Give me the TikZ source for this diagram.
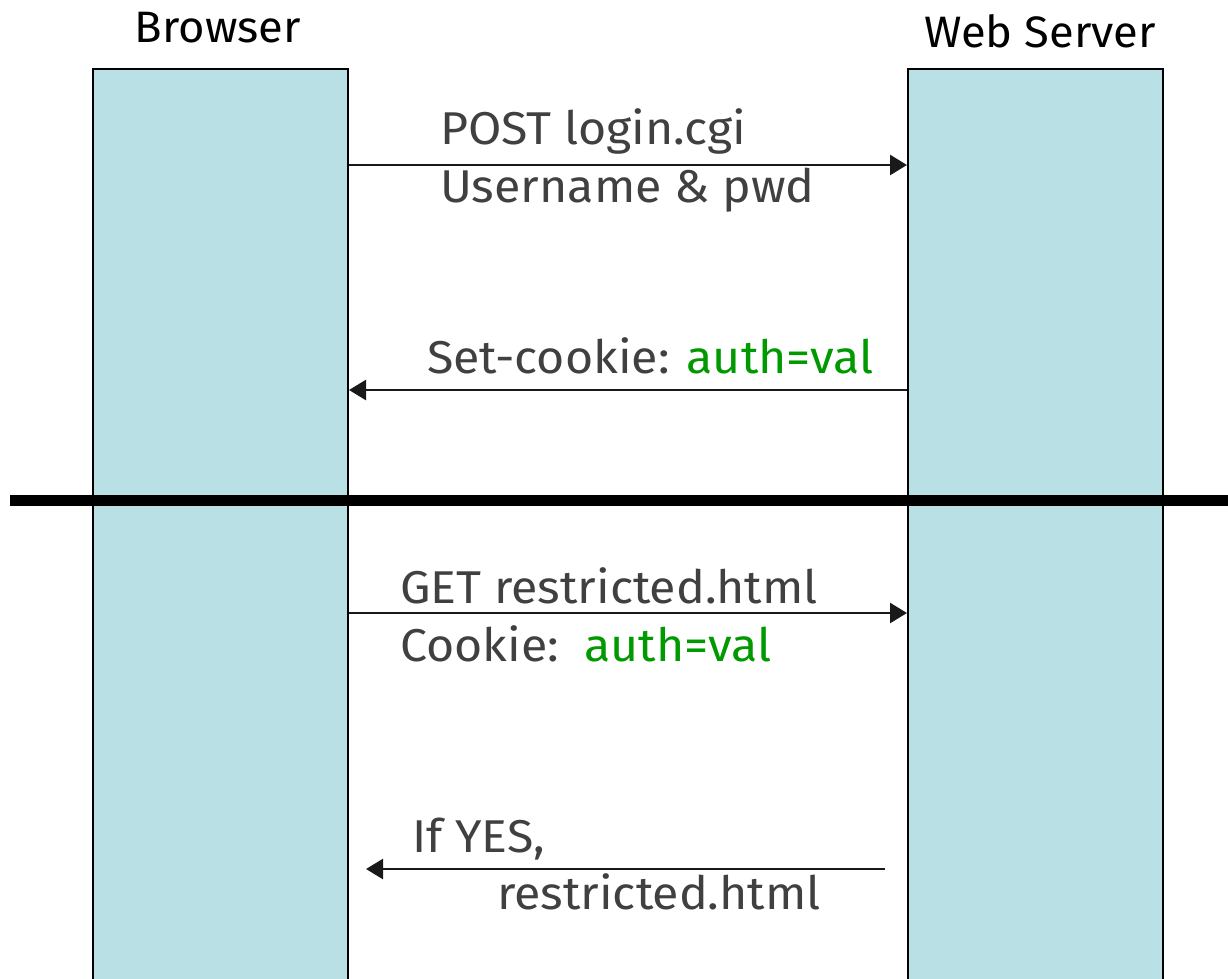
\documentclass[tikz,border=0pt]{standalone}
\usepackage{fontspec}
\setmainfont{Fira Sans}
\newfontfamily\labelfont[FakeStretch=1.05]{Fira Sans}
\newfontfamily\headfont[FakeStretch=1.03]{Fira Sans}
\usetikzlibrary{arrows.meta}
\definecolor{lane}{RGB}{185,224,228}
\definecolor{msgtext}{RGB}{64,64,64}
\definecolor{cookie}{RGB}{0,153,0}
\tikzset{
  party/.style={draw=black, line width=2pt, fill=lane, minimum width=255pt,
                minimum height=930pt, anchor=north west, inner sep=0pt},
  head/.style={font=\headfont\fontsize{44}{46}\selectfont, text=black, anchor=base, inner sep=0pt},
  msg/.style={line width=2.5pt, draw=black!90, -{Triangle[length=17pt,width=20pt]}},
  label/.style={font=\labelfont\fontsize{46}{50}\selectfont, text=msgtext, anchor=base west, inner sep=0pt},
  divider/.style={line width=11pt, draw=black}
}
\begin{document}
\begin{tikzpicture}[x=1pt, y=-1pt]
  \useasboundingbox (0,0) rectangle (1228,978);
  \fill[white] (0,0) rectangle (1228,978);

  % the two parties and their swim lanes
  \node[party] (browser) at (92,68) {};
  \node[party] (server) at (907,68) {};
  \node[head] (browsername) at (218,42) {Browser};
  \node[head] (servername) at (1040,47) {Web Server};

  % message rows
  \coordinate (m1) at (0,165);
  \coordinate (m2) at (0,390);
  \coordinate (m3) at (0,613);
  \coordinate (m4s) at (885,869);
  \coordinate (m4e) at (366,869);

  % login request
  \draw[msg] (browser.east |- m1) -- (server.west |- m1);
  \node[label] (post) at (440,144) {POST login.cgi};
  \node[label] (cred) at (440,202) {Username \& pwd};

  % cookie is set
  \draw[msg] (server.west |- m2) -- (browser.east |- m2);
  \node[label] (setcookie) at (427,373) {Set-cookie: \textcolor{cookie}{auth=val}};

  % later session
  \coordinate (divl) at (10,500);
  \coordinate (divr) at (1228,500);
  \draw[divider] (divl) -- (divr);

  \draw[msg] (browser.east |- m3) -- (server.west |- m3);
  \node[label] (get) at (400,603) {GET restricted.html};
  \node[label] (cookiehdr) at (400,661) {Cookie:\ \ \textcolor{cookie}{auth=val}};

  \draw[msg] (m4s) -- (m4e);
  \node[label] (ifyes) at (412,852) {If YES,};
  \node[label] (page) at (497,909) {restricted.html};
\end{tikzpicture}
\end{document}
